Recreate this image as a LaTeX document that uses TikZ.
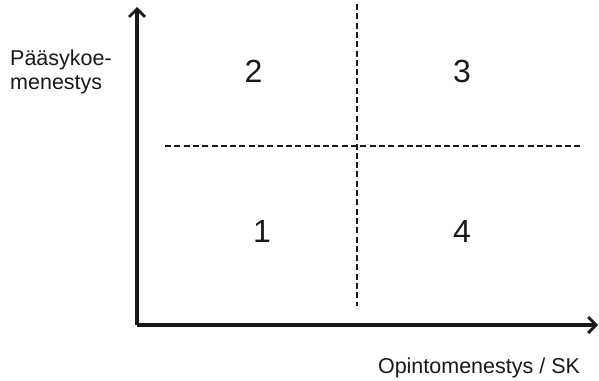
\documentclass[tikz,border=0pt]{standalone}
\usepackage{fontspec}
\setmainfont{Liberation Sans}
\usetikzlibrary{arrows.meta}
\tikzset{
  every picture/.append style={line cap=butt,line join=miter},
  quad axis/.style={line width=3.2pt,black!90,-{Straight Barb[length=8pt,width=16pt,line width=2.8pt]}},
  quad split/.style={line width=2.3pt,black!90,dash pattern=on 6pt off 3.3pt},
  quad number/.style={font=\fontsize{32}{36}\selectfont,inner sep=0pt,text=black!90},
  quad note/.style={font=\fontsize{21.5}{24}\selectfont,inner sep=0pt,text=black!90}
}

\begin{document}
\begin{tikzpicture}[x=1pt,y=-1pt]
\useasboundingbox (0,0) rectangle (599,380);
% axes
\coordinate (origin) at (137,325);
\coordinate (ytip) at (137,7);
\coordinate (xtip) at (598,325);
\draw[quad axis] (origin) -- (ytip);
\draw[quad axis] (origin) -- (xtip);
% dashed split lines
\coordinate (vtop) at (357,4);
\coordinate (vbot) at (357,306);
\coordinate (hleft) at (165,146);
\coordinate (hright) at (580,146);
\draw[quad split] (vtop) -- (vbot);
\draw[quad split] (hleft) -- (hright);
% quadrant numbers
\foreach \x/\y/\num in {253.5/71/2, 462/71/3, 262/231.5/1, 462/231.5/4}{
  \node[quad number] (q\num) at (\x,\y) {\num};
}
% axis labels
\node[quad note,anchor=north west,align=left] (ylabel) at (10,49.5) {Pääsykoe-\\menestys};
\node[quad note,anchor=base] (xlabel) at (479,373) {Opintomenestys / SK};
\end{tikzpicture}
\end{document}
